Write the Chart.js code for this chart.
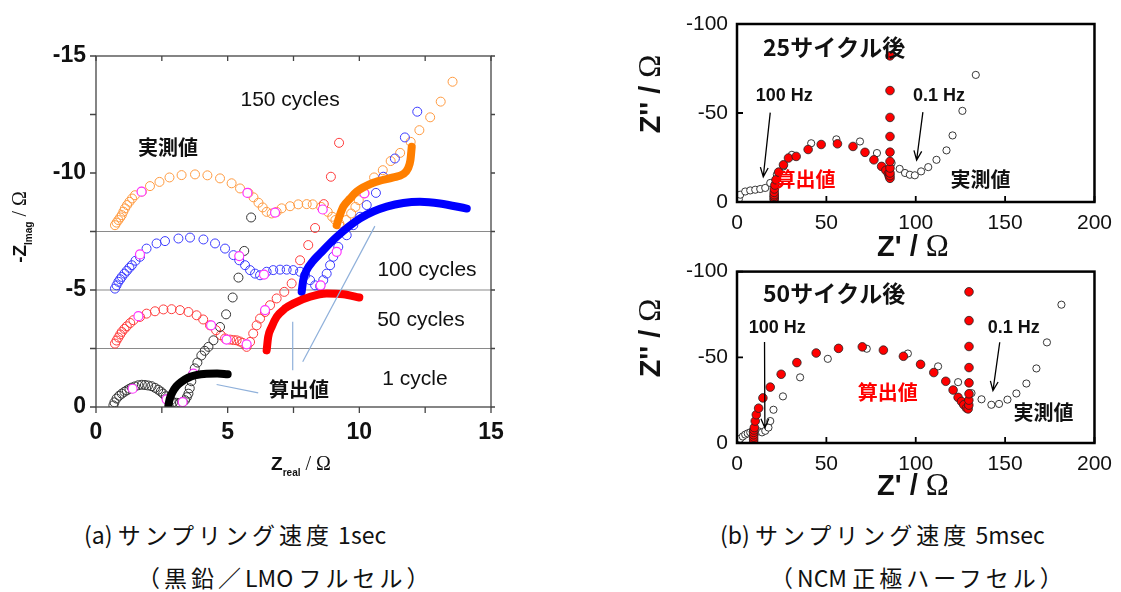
<!DOCTYPE html>
<html>
<head>
<meta charset="utf-8">
<script src="https://cdn.jsdelivr.net/npm/chart.js@4.4.0/dist/chart.umd.min.js"></script>
<style>
  body { margin: 0; background: #fff; width: 1121px; height: 592px; position: relative; overflow: hidden; }
  canvas { position: absolute; }
  .cap { position: absolute; font-family: "Noto Sans CJK JP", sans-serif; font-size: 23px; line-height: 23px;
         white-space: nowrap; color: #111; }
  .cap span { letter-spacing: 4px; }
</style>
</head>
<body>
<canvas id="chartA" width="540" height="490" style="left:0;top:0"></canvas>
<canvas id="chartB1" width="501" height="262" style="left:620px;top:0"></canvas>
<canvas id="chartB2" width="501" height="250" style="left:620px;top:250px"></canvas>

<div class="cap" style="left:84px;top:523px">(a) <span>サンプリング速度</span> 1sec</div>
<div class="cap" style="left:137px;top:566px"><span>（黒鉛／</span>LMO <span>フルセル）</span></div>
<div class="cap" style="left:720px;top:523px">(b) <span>サンプリング速度</span> 5msec</div>
<div class="cap" style="left:770px;top:566px"><span>（</span>NCM <span>正極ハーフセル）</span></div>

<script>
// ---- (a) graphite / LMO full cell, [Zreal, Zimag] ----
const cyc1Meas = [[0.66,-0.07],[0.7,-0.2],[0.78,-0.36],[0.88,-0.48],[0.98,-0.57],[1.08,-0.65],[1.17,-0.71],
  [1.27,-0.78],[1.36,-0.83],[1.48,-0.88],[1.61,-0.93],[1.74,-0.95],[1.86,-0.94],[1.98,-0.92],[2.11,-0.89],
  [2.24,-0.82],[2.36,-0.74],[2.46,-0.66],[2.55,-0.57],[2.65,-0.46],[2.74,-0.36],[2.84,-0.28],[2.93,-0.21],
  [3.06,-0.18],[3.19,-0.17],[3.3,-0.22],[3.38,-0.29],[3.45,-0.42],[3.51,-0.57],[3.56,-0.8],[3.62,-1.1],
  [3.68,-1.4],[3.75,-1.65],[3.85,-1.9],[4.0,-2.2],[4.13,-2.4],[4.27,-2.57],[4.46,-2.85],[4.71,-3.42],
  [4.94,-3.96],[5.19,-4.68],[5.41,-5.53],[5.63,-6.67],[5.89,-8.1]];
const cyc1Mark = [[1.39,-0.78],[2.68,-0.33],[3.29,-0.21],[3.7,-1.43]];
const cyc1Calc = [[2.75,-0.07],[2.8,-0.35],[2.9,-0.62],[3.05,-0.88],[3.25,-1.08],[3.5,-1.25],[3.8,-1.36],
  [4.2,-1.42],[4.6,-1.43],[5.0,-1.4]];

const cyc50Meas = [[0.72,-2.71],[0.78,-2.84],[0.85,-2.97],[0.92,-3.1],[0.98,-3.21],[1.08,-3.34],[1.17,-3.45],
  [1.3,-3.59],[1.42,-3.71],[1.67,-3.85],[1.92,-3.99],[2.24,-4.09],[2.56,-4.17],[2.87,-4.18],[3.19,-4.14],
  [3.51,-4.06],[3.82,-3.92],[4.07,-3.74],[4.33,-3.49],[4.56,-3.28],[4.74,-3.07],[4.9,-2.93],[5.09,-2.88],
  [5.22,-2.86],[5.34,-2.85],[5.46,-2.8],[5.57,-2.74],[5.72,-2.57],[5.85,-2.78],[5.97,-3.14],[6.1,-3.49],
  [6.23,-3.78],[6.42,-4.06],[6.61,-4.35],[6.86,-4.64],[7.15,-4.92],[7.43,-5.28],[7.75,-6.27],[8.06,-6.92],
  [8.32,-7.65],[8.65,-8.67],[8.92,-9.84],[9.23,-11.29]];
const cyc50Mark = [[1.61,-3.88],[4.37,-3.49],[4.96,-2.88],[5.72,-2.68],[6.42,-4.14]];
const cyc50Calc = [[6.48,-2.42],[6.54,-3.0],[6.67,-3.42],[6.86,-3.85],[7.18,-4.21],[7.49,-4.42],[8.13,-4.71],
  [8.76,-4.85],[9.39,-4.82],[10.0,-4.68]];

const cyc100Meas = [[0.72,-5.06],[0.78,-5.2],[0.85,-5.35],[0.92,-5.46],[0.98,-5.56],[1.08,-5.7],[1.17,-5.82],
  [1.27,-5.95],[1.36,-6.06],[1.5,-6.25],[1.67,-6.42],[1.92,-6.77],[2.3,-6.99],[2.62,-7.09],[3.13,-7.2],
  [3.57,-7.24],[4.08,-7.16],[4.52,-6.99],[4.9,-6.77],[5.22,-6.49],[5.44,-6.27],[5.66,-6.06],[5.85,-5.85],
  [6.04,-5.7],[6.23,-5.63],[6.48,-5.78],[6.73,-5.85],[6.99,-5.87],[7.24,-5.87],[7.49,-5.85],[7.75,-5.78],
  [7.94,-5.63],[8.13,-5.42],[8.32,-5.2],[8.51,-5.16],[8.63,-5.42],[8.76,-5.7],[8.89,-6.06],[9.01,-6.42],
  [9.2,-6.84],[9.52,-7.34],[9.77,-7.77],[10.03,-8.13],[10.28,-8.63],[10.63,-9.15],[10.91,-9.84],
  [11.35,-10.62],[11.73,-11.52],[12.2,-12.62]];
const cyc100Mark = [[1.67,-6.52],[5.44,-6.45],[6.38,-5.66],[8.53,-5.2],[9.14,-6.63]];
const cyc100Calc = [[7.81,-4.92],[7.87,-5.42],[8.0,-5.85],[8.25,-6.25],[8.51,-6.56],[9.14,-7.27],[10.03,-8.06],
  [11.04,-8.56],[12.3,-8.77],[13.06,-8.7],[14.08,-8.48]];

const cyc150Meas = [[0.72,-7.77],[0.78,-7.88],[0.85,-7.99],[0.92,-8.1],[0.98,-8.2],[1.04,-8.35],[1.1,-8.49],
  [1.18,-8.63],[1.27,-8.77],[1.37,-8.91],[1.48,-9.05],[1.74,-9.2],[2.05,-9.44],[2.41,-9.62],[2.79,-9.81],
  [3.25,-9.91],[3.76,-9.94],[4.23,-9.9],[4.71,-9.77],[5.15,-9.56],[5.47,-9.34],[5.79,-9.15],[5.98,-8.96],
  [6.17,-8.73],[6.33,-8.53],[6.48,-8.34],[6.67,-8.27],[6.86,-8.34],[7.05,-8.49],[7.37,-8.58],[7.68,-8.66],
  [8.0,-8.67],[8.23,-8.66],[8.55,-8.55],[8.8,-8.34],[8.97,-8.13],[9.09,-7.99],[9.24,-7.84],[9.5,-7.99],
  [9.69,-8.27],[9.85,-8.55],[9.98,-8.84],[10.2,-9.13],[10.56,-9.81],[10.89,-10.12],[11.19,-10.51],
  [11.55,-10.86],[11.95,-11.33],[12.28,-11.83],[12.69,-12.38],[13.09,-13.05],[13.54,-13.9]];
const cyc150Mark = [[1.73,-9.2],[5.75,-9.15],[6.8,-8.31],[8.61,-8.44],[10.19,-9.13]];
const cyc150Calc = [[9.14,-7.77],[9.24,-8.13],[9.39,-8.56],[9.65,-8.91],[9.9,-9.2],[10.53,-9.58],[11.29,-9.81],
  [11.66,-9.95],[11.85,-10.2],[11.94,-10.55],[11.99,-11.12]];

const offsetLevels = [-2.5, -5, -7.5];
const leaderLines = [[[6.16,-0.6],[4.58,-0.96]], [[7.47,-3.64],[7.47,-1.57]], [[7.85,-1.93],[10.59,-7.73]]];

// ---- (b) NCM half cell, [Z', Z''] ----
const c25Meas = [[1.0,-1.5],[1.8,-4.1],[4.6,-5.9],[7.4,-6.5],[10.2,-6.9],[13,-7.3],[15.8,-7.9],[18.6,-10.7],
  [22.3,-15.3],[26,-20],[30.7,-26.5],[41.5,-33],[55.6,-35.2],[68.8,-34],[78.3,-27.5],[86.5,-21.9],[91,-18.6],
  [94,-16.3],[96.7,-15.3],[99.5,-15],[103,-17.2],[107,-19.6],[111.6,-23.7],[117.2,-29],[120.6,-37.4],
  [126.1,-51.2],[133.6,-71.4]];
const c25Calc = [[20.8,-1.3],[20.8,-2.2],[20.8,-3.2],[20.8,-4.1],[20.8,-5.4],[20.9,-7.3],[21.2,-9.5],
  [21.8,-12.5],[23.3,-16.8],[26,-20.9],[28.8,-24.7],[33.1,-25.6],[39.8,-29.5],[47.1,-32.3],[56.2,-32.7],
  [64.9,-31.2],[71.6,-27.9],[76.6,-23.7],[80.9,-20],[83.3,-17.8],[84.7,-15.9],[85.2,-14.4],[85.6,-13.3],
  [85.6,-14.8],[85.6,-16.3],[85.6,-19.1],[85.6,-22.8],[85.6,-28],[85.6,-36.8],[85.6,-47.5],[85.6,-62.6],
  [85.6,-82.1]];

const c50Meas = [[1.0,-1.0],[1.8,-2.5],[3.2,-3.8],[4.6,-4.9],[6.0,-5.6],[7.4,-6.2],[8.8,-6.7],[10.2,-7.1],
  [12.1,-6.8],[14,-6.2],[15.8,-7.1],[17.6,-9],[18.6,-12.8],[20.4,-19.4],[25.7,-27.2],[35.3,-38.3],
  [50.8,-49.1],[72.6,-55],[95.6,-52.2],[112.5,-44.7],[123.7,-35.5],[131.2,-29.1],[136.8,-25.5],
  [142.3,-22.3],[146.6,-22.8],[151.3,-25.3],[156.3,-28.9],[161.9,-34.7],[167.5,-43.5],[173.4,-58.7],
  [181.5,-80.7]];
const c50Calc = [[9.3,-0.6],[9.3,-2],[9.3,-3.4],[9.3,-4.8],[9.3,-6.2],[9.5,-7.6],[9.7,-9],[10.2,-12.8],
  [10.8,-16.5],[12.1,-20.3],[14.5,-26.3],[18.6,-32.6],[24.7,-40.1],[33.5,-46.9],[44.3,-52.5],[56.8,-55.2],
  [70.1,-56.1],[81.9,-54.2],[93.1,-50.6],[102.7,-45.9],[110.1,-41.1],[116.8,-36],[120.9,-30.9],
  [123.7,-26.6],[125.6,-24.2],[126.9,-22.3],[128.4,-20.4],[129.3,-19.9],[129.7,-22.1],[129.7,-25],
  [129.8,-28.7],[129.8,-35.1],[129.8,-44],[129.8,-56.3],[129.8,-71.4],[129.8,-88.2]];

const SANS = 'Arial, "Liberation Sans", sans-serif';
const JP = '"Noto Sans CJK JP", sans-serif';
const SERIF = '"Liberation Serif", "Times New Roman", serif';

const pts = a => a.map(([x, y]) => ({ x, y }));

// text, arrows, box and tick marks drawn on top of each chart
const decor = {
  chartA: {
    box: '#444', boxW: 1.3, tickLen: 6, outside: true,
    lines: leaderLines.map(l => ({ p: l, color: '#8fb0da', w: 1.2 })),
    labels: [
      { t: '150 cycles', x: 7.37, y: -13.12, font: '21px ' + SANS },
      { t: '実測値', x: 2.73, y: -11.11, font: 'bold 20px ' + JP },
      { t: '100 cycles', x: 12.57, y: -5.85, font: '21px ' + SANS },
      { t: '50 cycles', x: 12.34, y: -3.72, font: '21px ' + SANS },
      { t: '1 cycle', x: 12.11, y: -1.18, font: '21px ' + SANS },
      { t: '算出値', x: 7.71, y: -0.76, font: 'bold 20px ' + JP }
    ],
    titles: [
      { x: 301, y: 470, runs: [{ t: 'Z', font: 'bold 19px ' + SANS }, { t: 'real', font: 'bold 10px ' + SANS, dy: 6 },
        { t: ' / Ω', font: '20px ' + SERIF }] },
      { x: 26, y: 227, rot: true, runs: [{ t: '-Z', font: 'bold 19px ' + SANS }, { t: 'Imag', font: 'bold 10px ' + SANS, dy: 6 },
        { t: ' / Ω', font: '20px ' + SERIF }] }
    ]
  },
  chartB1: {
    box: '#000', boxW: 2.5, tickLen: 6, outside: false,
    arrows: [[[18.6,-50.2],[14.7,-14.2]], [[104,-50.5],[100.5,-23.6]]],
    labels: [
      { t: '25サイクル後', x: 54.3, y: -87.1, font: 'bold 23px ' + JP },
      { t: '100 Hz', x: 26.4, y: -59.6, font: 'bold 18px ' + SANS },
      { t: '0.1 Hz', x: 113, y: -59.6, font: 'bold 18px ' + SANS },
      { t: '算出値', x: 38.3, y: -12.5, font: 'bold 20px ' + JP, color: '#ff0000' },
      { t: '実測値', x: 136.3, y: -12.5, font: 'bold 20px ' + JP }
    ],
    titles: [
      { x: 293, y: 256, runs: [{ t: "Z' / ", font: 'bold 29px ' + SANS }, { t: 'Ω', font: '31px ' + SERIF }] },
      { x: 40, y: 94, rot: true, runs: [{ t: "Z'' / ", font: 'bold 29px ' + SANS }, { t: 'Ω', font: '31px ' + SERIF }] }
    ]
  },
  chartB2: {
    box: '#000', boxW: 2.5, tickLen: 6, outside: false,
    arrows: [[[15.4,-58.9],[15.6,-8.8]], [[147,-58.8],[143.2,-30.6]]],
    labels: [
      { t: '50サイクル後', x: 54.3, y: -87.6, font: 'bold 23px ' + JP },
      { t: '100 Hz', x: 22.5, y: -66.9, font: 'bold 18px ' + SANS },
      { t: '0.1 Hz', x: 154.8, y: -66.9, font: 'bold 18px ' + SANS },
      { t: '算出値', x: 84.3, y: -29.6, font: 'bold 20px ' + JP, color: '#ff0000' },
      { t: '実測値', x: 171.5, y: -17.6, font: 'bold 20px ' + JP }
    ],
    titles: [
      { x: 293, y: 245, runs: [{ t: "Z' / ", font: 'bold 29px ' + SANS }, { t: 'Ω', font: '31px ' + SERIF }] },
      { x: 40, y: 88, rot: true, runs: [{ t: "Z'' / ", font: 'bold 29px ' + SANS }, { t: 'Ω', font: '31px ' + SERIF }] }
    ]
  }
};

function drawRuns(ctx, runs, x, y) {
  let w = 0;
  for (const r of runs) { ctx.font = r.font; w += ctx.measureText(r.t).width; }
  let cx = x - w / 2;
  ctx.textAlign = 'left';
  ctx.textBaseline = 'alphabetic';
  for (const r of runs) {
    ctx.font = r.font;
    ctx.fillText(r.t, cx, y + (r.dy || 0));
    cx += ctx.measureText(r.t).width;
  }
}

Chart.register({
  id: 'decor',
  afterDraw(chart) {
    const cfg = decor[chart.canvas.id];
    if (!cfg) return;
    const ctx = chart.ctx, a = chart.chartArea, xs = chart.scales.x, ys = chart.scales.y;
    const px = v => xs.getPixelForValue(v), py = v => ys.getPixelForValue(v);
    ctx.save();

    for (const l of cfg.lines || []) {
      ctx.strokeStyle = l.color; ctx.lineWidth = l.w;
      ctx.beginPath();
      ctx.moveTo(px(l.p[0][0]), py(l.p[0][1]));
      ctx.lineTo(px(l.p[1][0]), py(l.p[1][1]));
      ctx.stroke();
    }

    for (const ar of cfg.arrows || []) {
      const x1 = px(ar[0][0]), y1 = py(ar[0][1]), x2 = px(ar[1][0]), y2 = py(ar[1][1]);
      const ang = Math.atan2(y2 - y1, x2 - x1);
      ctx.strokeStyle = '#000'; ctx.lineWidth = 1.3;
      ctx.beginPath();
      ctx.moveTo(x1, y1); ctx.lineTo(x2, y2);
      ctx.moveTo(x2 - 10 * Math.cos(ang - 0.4), y2 - 10 * Math.sin(ang - 0.4));
      ctx.lineTo(x2, y2);
      ctx.lineTo(x2 - 10 * Math.cos(ang + 0.4), y2 - 10 * Math.sin(ang + 0.4));
      ctx.stroke();
    }

    ctx.textAlign = 'center'; ctx.textBaseline = 'middle';
    for (const lb of cfg.labels || []) {
      ctx.font = lb.font; ctx.fillStyle = lb.color || '#111';
      ctx.fillText(lb.t, px(lb.x), py(lb.y));
    }

    // frame and tick marks
    ctx.strokeStyle = cfg.box; ctx.lineWidth = cfg.boxW;
    ctx.strokeRect(a.left, a.top, a.right - a.left, a.bottom - a.top);
    const L = cfg.tickLen;
    ctx.lineWidth = cfg.outside ? 1.3 : 1.8;
    ctx.beginPath();
    for (const t of xs.ticks) {
      const x = px(t.value);
      if (cfg.outside) {
        ctx.moveTo(x, a.bottom); ctx.lineTo(x, a.bottom + L);
        ctx.moveTo(x, a.top); ctx.lineTo(x, a.top + L - 1);
      } else {
        ctx.moveTo(x, a.bottom); ctx.lineTo(x, a.bottom - L);
      }
    }
    for (const t of ys.ticks) {
      const y = py(t.value);
      if (cfg.outside) {
        ctx.moveTo(a.left - L, y); ctx.lineTo(a.left, y);
        ctx.moveTo(a.right, y); ctx.lineTo(a.right + 4, y);
      } else {
        ctx.moveTo(a.left, y); ctx.lineTo(a.left + L, y);
      }
    }
    ctx.stroke();

    ctx.fillStyle = '#111';
    for (const tt of cfg.titles || []) {
      if (tt.rot) {
        ctx.save(); ctx.translate(tt.x, tt.y); ctx.rotate(-Math.PI / 2);
        drawRuns(ctx, tt.runs, 0, 0);
        ctx.restore();
      } else {
        drawRuns(ctx, tt.runs, tt.x, tt.y);
      }
    }
    ctx.restore();
  }
});

function axes(o) {
  return {
    x: {
      type: 'linear', min: o.xMin, max: o.xMax,
      afterFit: s => { s.height = o.xH; },
      afterBuildTicks: s => { s.ticks = o.xTicks.map(v => ({ value: v })); },
      ticks: { callback: v => (o.xLab.includes(v) ? String(v) : ''), padding: o.xPad, color: '#111',
               font: o.tickFont, maxRotation: 0, autoSkip: false },
      grid: { display: false, drawTicks: false }, border: { display: false }
    },
    y: {
      type: 'linear', min: o.yMin, max: 0, reverse: true,
      afterFit: s => { s.width = o.yW; },
      afterBuildTicks: s => { s.ticks = o.yTicks.map(v => ({ value: v })); },
      ticks: { callback: v => (o.yLab.includes(v) ? String(v) : ''), padding: o.yPad, color: '#111',
               font: o.tickFont, autoSkip: false },
      grid: { display: false, drawTicks: false }, border: { display: false }
    }
  };
}

const baseOpts = { responsive: false, animation: false, plugins: { legend: { display: false }, tooltip: { enabled: false } } };

// ---- chart (a) ----
const measDs = (d, c) => ({ data: pts(d), showLine: false, pointRadius: 4.5, pointBorderWidth: 1,
  pointBorderColor: c, pointBackgroundColor: 'rgba(0,0,0,0)', order: 3 });
const markDs = d => ({ data: pts(d), showLine: false, pointRadius: 4.5, pointBorderWidth: 1.2,
  pointBorderColor: '#ff33ff', pointBackgroundColor: '#fff', order: 2 });
const calcDs = (d, c) => ({ data: pts(d), showLine: true, pointRadius: 0, borderColor: c, borderWidth: 8,
  borderCapStyle: 'round', borderJoinStyle: 'round', cubicInterpolationMode: 'monotone', order: 1 });

new Chart(document.getElementById('chartA'), {
  type: 'scatter',
  data: {
    datasets: [
      ...offsetLevels.map(v => ({ data: [{ x: 0, y: v }, { x: 15, y: v }], showLine: true, pointRadius: 0,
        borderColor: '#8a8a8a', borderWidth: 1.2, order: 5 })),
      measDs(cyc1Meas, '#333333'), measDs(cyc50Meas, '#ff3b3b'), measDs(cyc100Meas, '#3a3aff'),
      measDs(cyc150Meas, '#ff9a40'),
      markDs(cyc1Mark), markDs(cyc50Mark), markDs(cyc100Mark), markDs(cyc150Mark),
      calcDs(cyc1Calc, '#000000'), calcDs(cyc50Calc, '#ff0000'), calcDs(cyc100Calc, '#0000ff'),
      calcDs(cyc150Calc, '#ff7f00')
    ]
  },
  options: {
    ...baseOpts,
    layout: { padding: { left: 0, top: 56, right: 49, bottom: 0 } },
    scales: axes({ xMin: 0, xMax: 15, yMin: -15, xH: 83, yW: 96, xPad: 12, yPad: 10,
      xTicks: [0, 2.5, 5, 7.5, 10, 12.5, 15], xLab: [0, 5, 10, 15],
      yTicks: [-15, -12.5, -10, -7.5, -5, -2.5, 0], yLab: [-15, -10, -5, 0],
      tickFont: { family: SANS, size: 23, weight: 'bold' } })
  }
});

// ---- chart (b) ----
const bMeas = d => ({ data: pts(d), showLine: false, pointRadius: 3.6, pointBorderWidth: 0.9,
  pointBorderColor: '#222', pointBackgroundColor: '#fff', order: 2 });
const bCalc = d => ({ data: pts(d), showLine: false, pointRadius: 4.3, pointBorderWidth: 0.8,
  pointBorderColor: '#222', pointBackgroundColor: '#ff0000', order: 1 });
const bAxes = (xH) => axes({ xMin: 0, xMax: 200, yMin: -100, xH, yW: 117, xPad: 9, yPad: 9,
  xTicks: [0, 50, 100, 150, 200], xLab: [0, 50, 100, 150, 200],
  yTicks: [-100, -50, 0], yLab: [-100, -50, 0],
  tickFont: { family: SANS, size: 21 } });

new Chart(document.getElementById('chartB1'), {
  type: 'scatter',
  data: { datasets: [bMeas(c25Meas), bCalc(c25Calc)] },
  options: { ...baseOpts, layout: { padding: { left: 0, top: 24, right: 26, bottom: 0 } }, scales: bAxes(60) }
});

new Chart(document.getElementById('chartB2'), {
  type: 'scatter',
  data: { datasets: [bMeas(c50Meas), bCalc(c50Calc)] },
  options: { ...baseOpts, layout: { padding: { left: 0, top: 15, right: 26, bottom: 0 } }, scales: bAxes(57) }
});
</script>
</body>
</html>
